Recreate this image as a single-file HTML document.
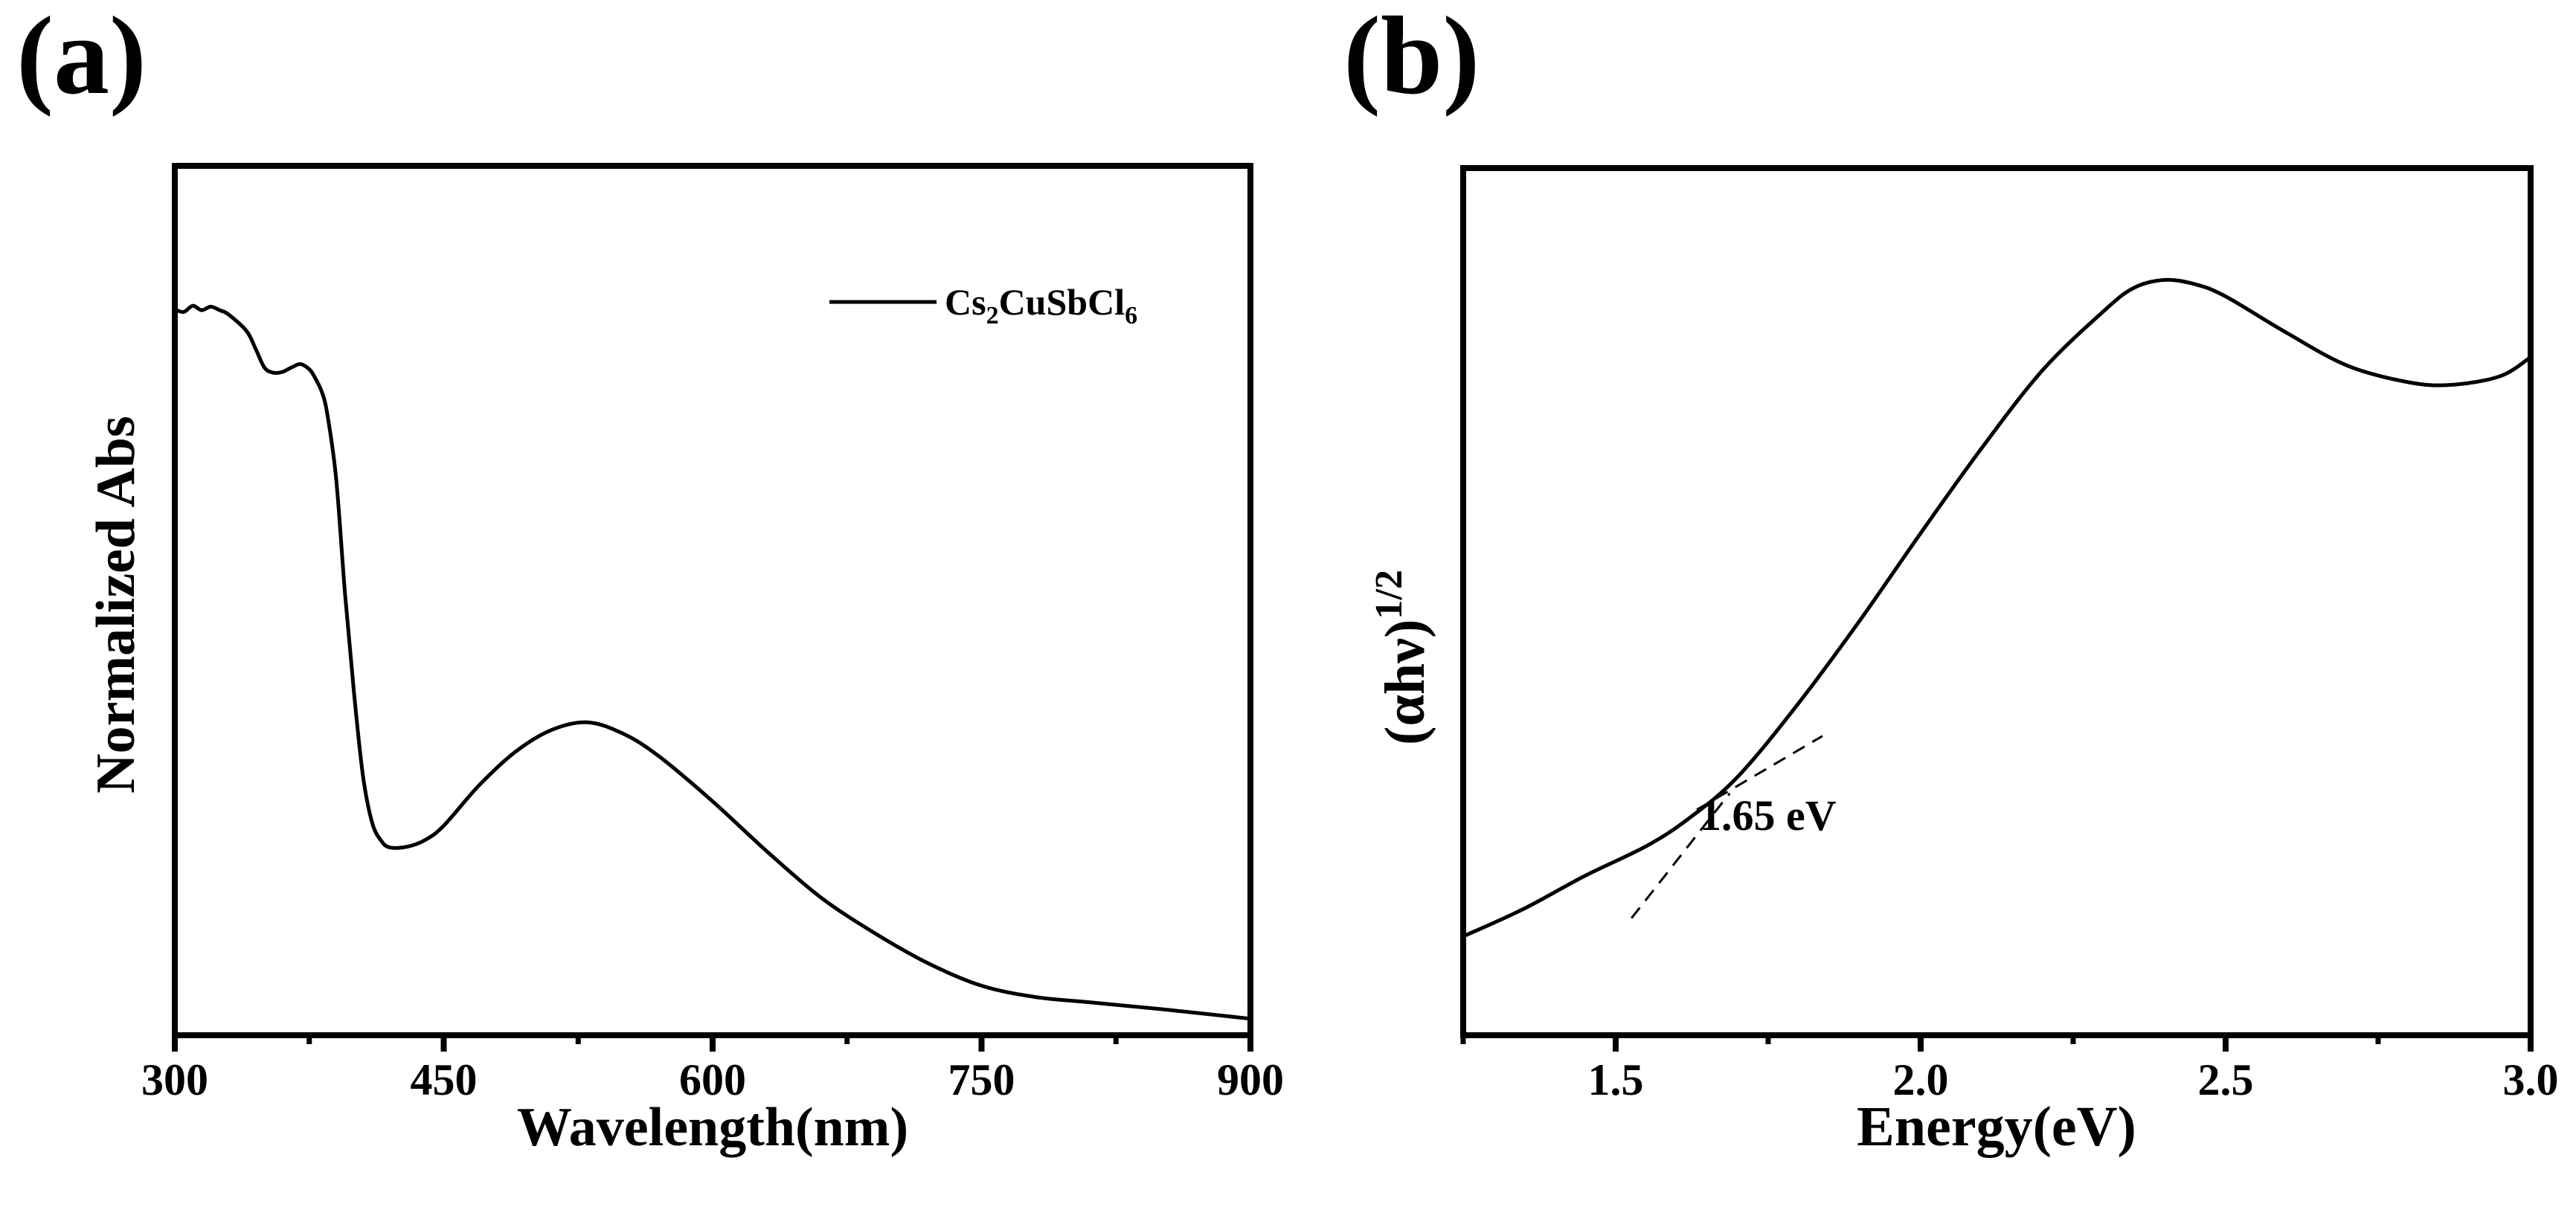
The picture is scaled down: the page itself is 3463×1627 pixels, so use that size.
<!DOCTYPE html>
<html><head><meta charset="utf-8">
<style>
html,body{margin:0;padding:0;background:#fff;}
svg{display:block;font-family:"Liberation Serif",serif;font-weight:bold;}
</style></head>
<body>
<svg id="fig" width="3463" height="1627" viewBox="0 0 3463 1627" xmlns="http://www.w3.org/2000/svg">
<text x="22" y="125" font-size="150">(a)</text>
<text x="1806" y="125" font-size="150">(b)</text>
<g id="pa"></g>
<g id="pb"></g>
</svg>
<script>
// Panel (a) data
const waveNm = [300,305,310,315,320,325,330,340,345,350,355,360,365,370,375,378,382,385,390,395,400,405,410,415,420,430,440,450,470,490,510,530,550,570,600,630,660,690,720,750,780,810,850,900];
const absVals = [0.835,0.832,0.839,0.834,0.838,0.834,0.829,0.81,0.79,0.768,0.762,0.763,0.768,0.772,0.766,0.757,0.74,0.715,0.64,0.507,0.393,0.298,0.245,0.224,0.216,0.217,0.225,0.241,0.288,0.326,0.351,0.36,0.347,0.321,0.269,0.212,0.159,0.118,0.083,0.057,0.044,0.038,0.030,0.019];
const aTicks = [300,450,600,750,900];
const aTickLabels = ["300","450","600","750","900"];
// Panel (b) data
const energyEv = [1.25,1.35,1.45,1.55,1.62,1.7,1.8,1.9,2.0,2.1,2.2,2.3,2.35,2.4,2.45,2.5,2.6,2.7,2.8,2.87,2.95,3.0];
const taucVals = [0.114,0.146,0.184,0.218,0.25,0.298,0.383,0.478,0.579,0.677,0.767,0.835,0.862,0.871,0.866,0.852,0.81,0.772,0.753,0.75,0.76,0.782];
const bTicks = [1.5,2.0,2.5,3.0];
const bTickLabels = ["1.5","2.0","2.5","3.0"];
const fitSteepE = [1.526,1.687];
const fitSteepV = [0.135,0.279];
const fitShallowE = [1.633,1.839];
const fitShallowV = [0.26,0.345];

const NS="http://www.w3.org/2000/svg";
function mk(parent,tag,attrs){const e=document.createElementNS(NS,tag);for(const k in attrs)e.setAttribute(k,attrs[k]);parent.appendChild(e);return e;}

function panel(g,L,R,T,B,xmin,xmax,ticks,labels,minorStep){
  const sx=v=>L+(v-xmin)/(xmax-xmin)*(R-L);
  const sy=v=>B-v*(B-T);
  const frame=mk(g,'rect',{x:L,y:T,width:R-L,height:B-T,fill:'none',stroke:'#000','stroke-width':8});
  
  
  for(let v=xmin;v<=xmax+1e-9;v+=minorStep){
    const t=mk(g,'line',{x1:sx(v),x2:sx(v),y1:B,y2:B+12,stroke:'#000','stroke-width':7});
    
    
  }
  ticks.forEach((v,i)=>{
    const t=mk(g,'line',{x1:sx(v),x2:sx(v),y1:B,y2:B+22,stroke:'#000','stroke-width':8});
    
    
    const tx=mk(g,'text',{x:sx(v),y:B+80,'font-size':60,'text-anchor':'middle'});
    tx.textContent=labels[i];
    
    
  });
  return {sx,sy};
}
function curve(g,xs,ys,sx,sy,name,dash,w,smooth){
  const P=xs.map((x,i)=>[sx(x),sy(ys[i])]);
  let d='M'+P[0][0].toFixed(1)+','+P[0][1].toFixed(1);
  for(let i=0;i<P.length-1;i++){
    if(!smooth){d+='L'+P[i+1][0].toFixed(1)+','+P[i+1][1].toFixed(1);continue;}
    const p0=P[Math.max(0,i-1)],p1=P[i],p2=P[i+1],p3=P[Math.min(P.length-1,i+2)];
    const c1=[p1[0]+(p2[0]-p0[0])/6,p1[1]+(p2[1]-p0[1])/6];
    const c2=[p2[0]-(p3[0]-p1[0])/6,p2[1]-(p3[1]-p1[1])/6];
    d+='C'+c1[0].toFixed(1)+','+c1[1].toFixed(1)+' '+c2[0].toFixed(1)+','+c2[1].toFixed(1)+' '+p2[0].toFixed(1)+','+p2[1].toFixed(1);
  }
  const p=mk(g,'path',{d:d,fill:'none',stroke:'#000','stroke-width':w,'stroke-linejoin':'round'});
  if(dash)p.setAttribute('stroke-dasharray',dash);
  
  
}

const ga=document.getElementById('pa');
const A=panel(ga,235,1681,223,1392,300,900,aTicks,aTickLabels,75);
curve(ga,waveNm,absVals,A.sx,A.sy,'absorbance-curve',null,5,true);
let t=mk(ga,'text',{x:958,y:1540,'font-size':74,'text-anchor':'middle'});
t.textContent='Wavelength(nm)';


t=mk(ga,'text',{x:0,y:0,'font-size':74,'text-anchor':'middle',transform:'translate(180,813) rotate(-90)'});
t.textContent='Normalized Abs';


let l=mk(ga,'line',{x1:1115,x2:1259,y1:406,y2:406,stroke:'#000','stroke-width':5});


t=mk(ga,'text',{x:1270,y:423,'font-size':50});
t.innerHTML='Cs<tspan font-size="34" dy="12">2</tspan><tspan dy="-12">CuSbCl</tspan><tspan font-size="34" dy="12">6</tspan>';



const gb=document.getElementById('pb');
const Bp=panel(gb,1967,3402,226,1392,1.25,3.0,bTicks,bTickLabels,0.25);
curve(gb,energyEv,taucVals,Bp.sx,Bp.sy,'tauc-curve',null,5,true);
curve(gb,fitSteepE,fitSteepV,Bp.sx,Bp.sy,'tangent-fit-line','18,12',3,false);
curve(gb,fitShallowE,fitShallowV,Bp.sx,Bp.sy,'baseline-fit-line','18,12',3,false);
t=mk(gb,'text',{x:2285,y:1116,'font-size':58});
t.textContent='1.65 eV';


t=mk(gb,'text',{x:2684,y:1540,'font-size':76,'text-anchor':'middle'});
t.textContent='Energy(eV)';


t=mk(gb,'text',{x:0,y:0,'font-size':76,'text-anchor':'middle',transform:'translate(1914,884) rotate(-90)'});
t.innerHTML='(αhν)<tspan font-size="52" dy="-30">1/2</tspan>';


</script>
</body></html>
